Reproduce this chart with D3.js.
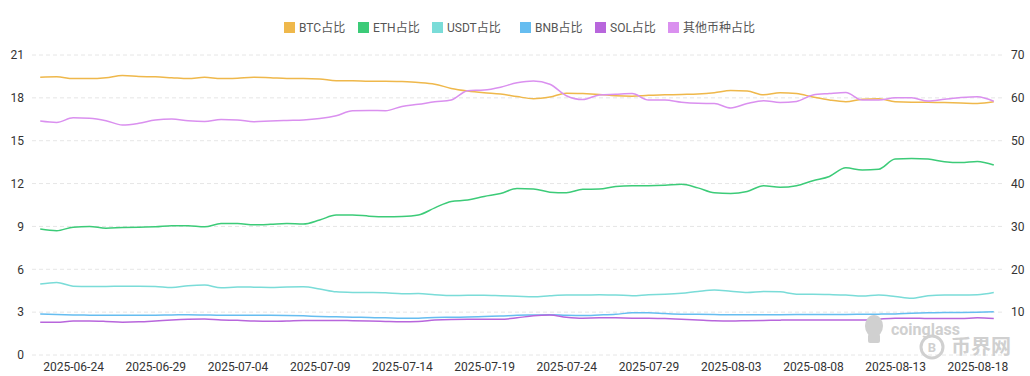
<!DOCTYPE html>
<html>
<head>
<meta charset="utf-8">
<script src="https://cdn.jsdelivr.net/npm/d3@7"></script>
<style>
	body { margin: 0; background: #fff; }
	svg { display: block; font-family: Roboto, "Noto Sans CJK SC", sans-serif; }
</style>
</head>
<body>
<div id="chart"></div>
<script>
// daily dates, 2025-06-22 .. 2025-08-19
const dates = d3.timeDay.range(new Date(2025, 5, 22), new Date(2025, 7, 20))

const btc = [64.8, 64.9, 64.5, 64.5, 64.7, 65.2, 65.0, 64.9, 64.7, 64.5, 64.8, 64.5, 64.6, 64.8, 64.7, 64.5,
	64.5, 64.4, 64.0, 64.0, 63.9, 63.9, 63.8, 63.6, 63.2, 62.2, 61.6, 61.2, 60.9, 60.3, 59.8, 60.2,
	61.1, 61.0, 60.8, 60.5, 60.4, 60.6, 60.7, 60.8, 60.9, 61.2, 61.7, 61.6, 60.7, 61.2, 61.0, 60.2,
	59.5, 59.1, 59.7, 59.8, 59.1, 59.0, 59.0, 58.9, 58.8, 58.7, 59.1]
const eth = [8.82, 8.7, 8.95, 9.0, 8.88, 8.92, 8.95, 8.97, 9.05, 9.04, 8.97, 9.2, 9.2, 9.12, 9.15, 9.2,
	9.17, 9.45, 9.8, 9.8, 9.72, 9.68, 9.7, 9.8, 10.3, 10.75, 10.85, 11.1, 11.3, 11.65, 11.62, 11.4,
	11.35, 11.6, 11.62, 11.8, 11.85, 11.85, 11.88, 11.95, 11.7, 11.35, 11.3, 11.45, 11.85, 11.74, 11.85, 12.2,
	12.5, 13.1, 12.95, 13.0, 13.72, 13.76, 13.72, 13.53, 13.47, 13.55, 13.3]
const usdt = [4.97, 5.08, 4.82, 4.8, 4.8, 4.82, 4.82, 4.8, 4.72, 4.85, 4.9, 4.7, 4.76, 4.75, 4.73, 4.76,
	4.77, 4.62, 4.42, 4.38, 4.37, 4.35, 4.29, 4.3, 4.22, 4.16, 4.18, 4.18, 4.15, 4.12, 4.08, 4.15,
	4.2, 4.2, 4.21, 4.2, 4.15, 4.22, 4.25, 4.32, 4.45, 4.55, 4.47, 4.38, 4.45, 4.42, 4.26, 4.25,
	4.23, 4.2, 4.13, 4.2, 4.1, 3.97, 4.15, 4.2, 4.2, 4.22, 4.38]
const bnb = [2.87, 2.83, 2.8, 2.79, 2.78, 2.78, 2.78, 2.79, 2.8, 2.82, 2.8, 2.78, 2.78, 2.78, 2.78, 2.77,
	2.74, 2.7, 2.67, 2.65, 2.62, 2.6, 2.57, 2.58, 2.62, 2.64, 2.66, 2.7, 2.73, 2.78, 2.8, 2.82,
	2.78, 2.76, 2.8, 2.85, 2.95, 2.95, 2.9, 2.86, 2.85, 2.83, 2.82, 2.82, 2.82, 2.82, 2.83, 2.83,
	2.84, 2.84, 2.85, 2.86, 2.87, 2.92, 2.95, 2.97, 2.98, 3.0, 3.02]
const sol = [2.29, 2.29, 2.38, 2.38, 2.35, 2.3, 2.32, 2.38, 2.45, 2.5, 2.52, 2.45, 2.43, 2.38, 2.36, 2.38,
	2.42, 2.42, 2.42, 2.4, 2.38, 2.35, 2.33, 2.35, 2.45, 2.49, 2.5, 2.5, 2.5, 2.6, 2.75, 2.8,
	2.65, 2.58, 2.6, 2.6, 2.58, 2.58, 2.55, 2.5, 2.45, 2.4, 2.38, 2.4, 2.42, 2.44, 2.45, 2.45,
	2.45, 2.45, 2.45, 2.52, 2.58, 2.58, 2.55, 2.55, 2.55, 2.6, 2.55]
const others = [16.38, 16.28, 16.6, 16.57, 16.4, 16.1, 16.22, 16.45, 16.52, 16.4, 16.35, 16.48, 16.45, 16.33, 16.38, 16.42,
	16.45, 16.55, 16.75, 17.1, 17.12, 17.1, 17.4, 17.55, 17.72, 17.85, 18.5, 18.55, 18.75, 19.05, 19.18, 18.95,
	18.15, 17.88, 18.2, 18.25, 18.3, 17.85, 17.85, 17.7, 17.62, 17.6, 17.29, 17.6, 17.8, 17.68, 17.75, 18.2,
	18.3, 18.37, 17.85, 17.85, 18.0, 18.0, 17.78, 17.9, 18.02, 18.08, 17.76]

const leftTicks = [0, 3, 6, 9, 12, 15, 18, 21]
// the 0 label on the right is hidden under the watermark in the original
const rightTicks = [10, 20, 30, 40, 50, 60, 70]

// BTC is drawn against the right axis, the rest against the left
const series = [
	{ name: "BTC占比", values: btc, color: "#efb84b", axis: "right" },
	{ name: "ETH占比", values: eth, color: "#3ccb78", axis: "left" },
	{ name: "USDT占比", values: usdt, color: "#7adcd8", axis: "left" },
	{ name: "BNB占比", values: bnb, color: "#66bdf0", axis: "left" },
	{ name: "SOL占比", values: sol, color: "#b866dc", axis: "left" },
	{ name: "其他币种占比", values: others, color: "#da90ef", axis: "left" },
]

const width = 1030
const height = 376
const margin = { top: 55, right: 28, bottom: 21, left: 32 }
const innerW = width - margin.left - margin.right
const innerH = height - margin.top - margin.bottom

const svg = d3.select("#chart")
	.append("svg")
	.attr("width", width)
	.attr("height", height)

const g = svg.append("g")
	.attr("transform", `translate(${margin.left},${margin.top})`)

const xScale = d3.scalePoint()
	.domain(dates.map((d, i) => i))
	.range([0, innerW])
	.padding(0.5)

const yLeft = d3.scaleLinear().domain([0, 21]).range([innerH, 0])
const yRight = d3.scaleLinear().domain([0, 70]).range([innerH, 0])

// gridlines
g.append("g")
	.selectAll("line")
	.data(leftTicks)
	.join("line")
	.attr("x1", 0)
	.attr("x2", innerW)
	.attr("y1", (d) => yLeft(d))
	.attr("y2", (d) => yLeft(d))
	.attr("stroke", "#e6e6e6")
	.attr("stroke-dasharray", "4,3")

// left axis
const leftAxis = g.append("g")
	.call(d3.axisLeft(yLeft).tickValues(leftTicks).tickSize(0).tickPadding(8))
leftAxis.select(".domain").remove()
leftAxis.selectAll("text")
	.attr("font-size", 12)
	.attr("font-family", "Roboto")
	.attr("fill", "#333")

// right axis
const rightAxis = g.append("g")
	.attr("transform", `translate(${innerW},0)`)
	.call(d3.axisRight(yRight).tickValues(rightTicks).tickSize(0).tickPadding(9))
rightAxis.select(".domain").remove()
rightAxis.selectAll("text")
	.attr("font-size", 12)
	.attr("font-family", "Roboto")
	.attr("fill", "#333")

// bottom axis, every 5th day starting at 06-24
const fmt = d3.timeFormat("%Y-%m-%d")
const tickIdx = dates.map((d, i) => i).filter((i) => i >= 2 && (i - 2) % 5 === 0)
const xAxis = g.append("g")
	.attr("transform", `translate(0,${innerH})`)
	.call(d3.axisBottom(xScale).tickValues(tickIdx).tickFormat((i) => fmt(dates[i])).tickSize(0).tickPadding(7))
xAxis.select(".domain").remove()
xAxis.selectAll("text")
	.attr("font-size", 12)
	.attr("font-family", "Roboto")
	.attr("fill", "#333")

// watermark
const wm = svg.append("g").attr("fill", "#d0d0d0")
wm.append("ellipse").attr("cx", 874).attr("cy", 326).attr("rx", 9).attr("ry", 11)
wm.append("rect").attr("x", 868).attr("y", 334).attr("width", 12).attr("height", 9).attr("rx", 2)
wm.append("text")
	.attr("x", 891).attr("y", 335)
	.attr("font-size", 16).attr("font-weight", "bold")
	.attr("font-family", "Roboto")
	.text("coinglass")
wm.append("circle")
	.attr("cx", 932).attr("cy", 347).attr("r", 11)
	.attr("fill", "none").attr("stroke", "#d0d0d0").attr("stroke-width", 3)
wm.append("text")
	.attr("x", 932).attr("y", 352)
	.attr("text-anchor", "middle")
	.attr("font-size", 13).attr("font-weight", "bold")
	.text("B")
wm.append("text")
	.attr("x", 951).attr("y", 354)
	.attr("font-size", 20).attr("font-weight", "bold")
	.attr("font-family", "Noto Sans CJK SC")
	.text("币界网")

// lines
const lines = g.append("g")
series.forEach((s) => {
	const y = s.axis === "right" ? yRight : yLeft
	const line = d3.line()
		.x((d, i) => xScale(i))
		.y((d) => y(d))
		.curve(d3.curveMonotoneX)
	lines.append("path")
		.datum(s.values)
		.attr("fill", "none")
		.attr("stroke", s.color)
		.attr("stroke-width", 1.5)
		.attr("d", line)
})

// legend
const legendX = [284, 358, 432, 520, 595, 668]
const legend = svg.append("g").attr("transform", "translate(0,22)")
series.forEach((s, i) => {
	const item = legend.append("g").attr("transform", `translate(${legendX[i]},0)`)
	item.append("rect")
		.attr("width", 11)
		.attr("height", 11)
		.attr("fill", s.color)
	item.append("text")
		.attr("x", 15)
		.attr("y", 10)
		.attr("font-size", 12)
		.attr("fill", "#555")
		.text(s.name)
})
</script>
</body>
</html>
